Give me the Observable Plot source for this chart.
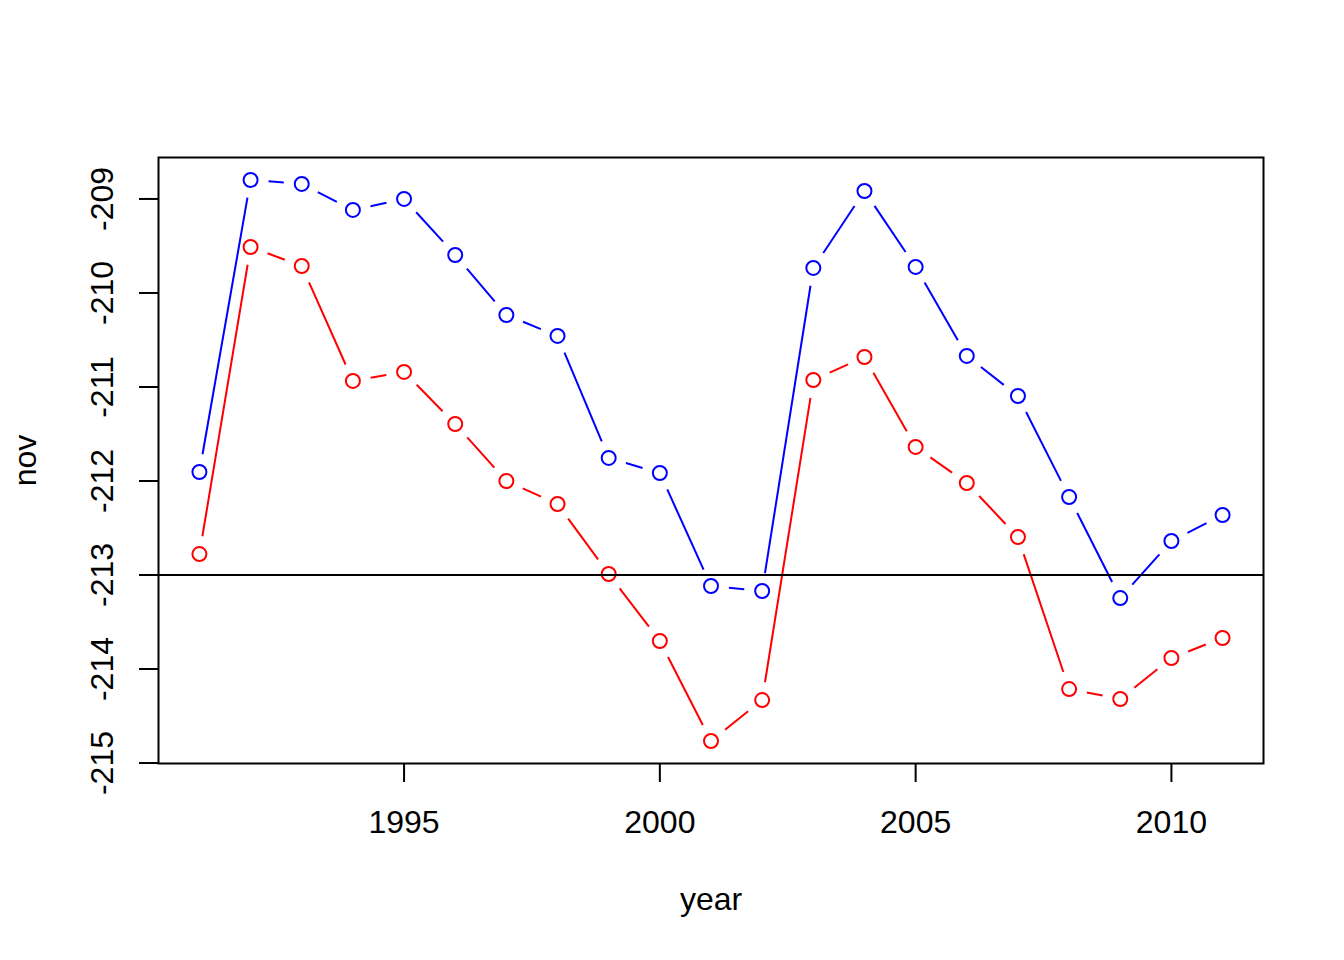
<!DOCTYPE html>
<html>
<head>
<meta charset="utf-8">
<script src="https://cdn.jsdelivr.net/npm/d3@7"></script>
<script src="https://cdn.jsdelivr.net/npm/@observablehq/plot@0.6"></script>
<style>
  html, body { margin: 0; padding: 0; background: #fff; }
  #chart svg { display: block; }
</style>
</head>
<body>
<div id="chart"></div>
<script>
const years = [1991,1992,1993,1994,1995,1996,1997,1998,1999,2000,2001,2002,2003,2004,2005,2006,2007,2008,2009,2010,2011];
const blueSeries = [-211.904,-208.798,-208.840,-209.117,-209.000,-209.596,-210.234,-210.457,-211.755,-211.915,-213.117,-213.170,-209.734,-208.915,-209.723,-210.670,-211.096,-212.170,-213.245,-212.638,-212.362];
const redSeries = [-212.777,-209.511,-209.713,-210.936,-210.840,-211.394,-212.000,-212.245,-212.989,-213.702,-214.766,-214.330,-210.926,-210.681,-211.638,-212.021,-212.596,-214.213,-214.319,-213.883,-213.670];
const xTicks = [1995, 2000, 2005, 2010];
const yTicks = [-215, -214, -213, -212, -211, -210, -209];
const refLine = -213;
const xLabel = "year";
const yLabel = "nov";

const W = 1344, H = 960;
const mL = 158, mR = 81, mT = 157, mB = 197;
const xDomain = [1990.2, 2011.8];
const yDomain = [-215.005, -208.559];
const FONT = "'Liberation Sans', Arial, Helvetica, sans-serif";
const GAP = 18;

const sx = Plot.scale({x: {domain: xDomain, range: [mL, W - mR]}});
const sy = Plot.scale({y: {domain: yDomain, range: [H - mB, mT]}});

function gappedSegments(vals, color) {
  const segs = [];
  for (let i = 0; i < years.length - 1; i++) {
    const px1 = sx.apply(years[i]), py1 = sy.apply(vals[i]);
    const px2 = sx.apply(years[i + 1]), py2 = sy.apply(vals[i + 1]);
    const dx = px2 - px1, dy = py2 - py1;
    const d = Math.hypot(dx, dy);
    if (d <= 2 * GAP) continue;
    const f = GAP / d;
    segs.push({
      x1: sx.invert(px1 + dx * f), y1: sy.invert(py1 + dy * f),
      x2: sx.invert(px2 - dx * f), y2: sy.invert(py2 - dy * f),
      color
    });
  }
  return segs;
}

const points = [
  ...years.map((y, i) => ({year: y, value: blueSeries[i], color: "#0000ff"})),
  ...years.map((y, i) => ({year: y, value: redSeries[i], color: "#ff0000"}))
];
const segments = [...gappedSegments(blueSeries, "#0000ff"), ...gappedSegments(redSeries, "#ff0000")];

const chart = Plot.plot({
  width: W, height: H,
  marginLeft: mL, marginRight: mR, marginTop: mT, marginBottom: mB,
  style: {fontFamily: FONT, color: "black", background: "white", overflow: "visible"},
  x: {domain: xDomain, axis: null},
  y: {domain: yDomain, axis: null},
  marks: [
    Plot.link(segments, {x1: "x1", y1: "y1", x2: "x2", y2: "y2", stroke: "color", strokeWidth: 2}),
    Plot.dot(points, {x: "year", y: "value", r: 7, stroke: "color", strokeWidth: 2, fill: "none"}),
    Plot.ruleY([refLine], {stroke: "black", strokeWidth: 2}),
    Plot.frame({stroke: "black", strokeWidth: 2}),
    Plot.axisX({ticks: xTicks, tickSize: 19, tickPadding: 28, fontSize: 32, label: null, tickFormat: d => String(d), strokeWidth: 2}),
    Plot.axisY({ticks: yTicks, tickSize: 19, fontSize: 32, label: null, tickFormat: () => "", strokeWidth: 2}),
    Plot.text(yTicks, {x: xDomain[0], y: d => d, text: d => String(d), rotate: -90, dx: -46, textAnchor: "middle", lineAnchor: "bottom", fontSize: 32, fill: "black"}),
    Plot.text([xLabel], {frameAnchor: "bottom", text: d => d, dy: 146, textAnchor: "middle", lineAnchor: "bottom", fontSize: 32, fill: "black"}),
    Plot.text([yLabel], {frameAnchor: "left", text: d => d, dx: -123, rotate: -90, textAnchor: "middle", lineAnchor: "bottom", fontSize: 32, fill: "black"})
  ]
});
document.getElementById("chart").appendChild(chart);
</script>
</body>
</html>
